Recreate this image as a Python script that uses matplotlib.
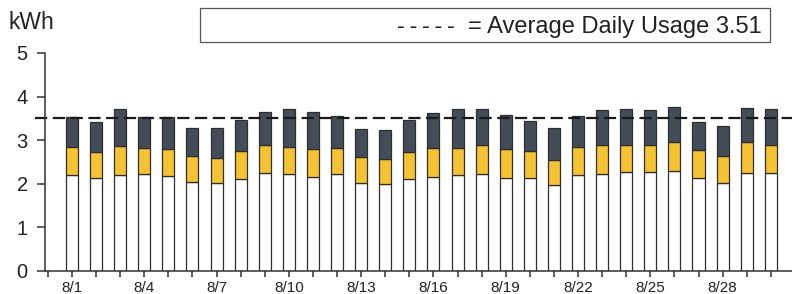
import numpy as np
import matplotlib.pyplot as plt
from matplotlib.patches import Rectangle

plt.rcParams['font.family'] = ['Liberation Sans', 'DejaVu Sans']

days = ['8/%d' % d for d in range(1, 31)]
# stacked segments (kWh)
base = [2.20, 2.14, 2.20, 2.22, 2.17, 2.03, 2.01, 2.11, 2.24, 2.22,
        2.16, 2.22, 2.01, 1.99, 2.11, 2.16, 2.20, 2.22, 2.14, 2.13,
        1.97, 2.20, 2.22, 2.28, 2.28, 2.29, 2.13, 2.01, 2.25, 2.25]
mid_top = [2.84, 2.72, 2.87, 2.81, 2.79, 2.64, 2.60, 2.75, 2.88, 2.85,
           2.80, 2.83, 2.61, 2.56, 2.72, 2.81, 2.81, 2.89, 2.79, 2.76,
           2.55, 2.84, 2.89, 2.89, 2.90, 2.97, 2.78, 2.63, 2.95, 2.89]
total = [3.54, 3.42, 3.71, 3.54, 3.54, 3.29, 3.27, 3.46, 3.64, 3.72,
         3.65, 3.56, 3.25, 3.23, 3.46, 3.63, 3.71, 3.72, 3.58, 3.45,
         3.29, 3.56, 3.69, 3.72, 3.69, 3.77, 3.42, 3.33, 3.75, 3.72]
avg_usage = 3.51

base = np.array(base)
mid = np.array(mid_top) - base
top = np.array(total) - np.array(mid_top)
x = np.arange(len(days))

fig = plt.figure(figsize=(7.92, 2.94), dpi=100)
ax = fig.add_axes([45 / 792, 23 / 294, 747 / 792, 218 / 294])

edge = '#2e2e2e'
ax.bar(x, base, 0.5, color='white', edgecolor=edge, linewidth=0.9)
ax.bar(x, mid, 0.5, bottom=base, color='#f5c233', edgecolor=edge, linewidth=0.9)
ax.bar(x, top, 0.5, bottom=np.array(mid_top), color='#444c57', edgecolor=edge, linewidth=0.9)

ax.plot([-1.55, 30.5], [avg_usage, avg_usage], color='#1a1a1a', lw=1.6,
        dashes=(5.5, 2.5), clip_on=False)

ax.set_xlim(-1.12, 29.88)
ax.set_ylim(0, 5)
ax.set_yticks(range(6))
ticks = list(range(-1, len(days)))
ax.set_xticks(ticks)
ax.set_xticklabels(['' if (t < 0 or t % 3) else days[t] for t in ticks])

for s in ['top', 'right']:
    ax.spines[s].set_visible(False)
for s in ['left', 'bottom']:
    ax.spines[s].set_color('#333333')
    ax.spines[s].set_linewidth(1.1)
ax.tick_params(axis='y', direction='out', length=5.5, width=1.1, color='#333333',
               labelsize=14.5, pad=7, labelcolor='#222222')
ax.tick_params(axis='x', direction='out', length=4.5, width=1.1, color='#333333',
               labelsize=11, pad=3, labelcolor='#222222')

fig.text(8 / 792, 1 - 29 / 294, 'kWh', fontsize=16.5, color='#222222')

fig.patches.append(Rectangle((200 / 792, 1 - 42 / 294), 570 / 792, 34 / 294,
                             transform=fig.transFigure, fill=False,
                             edgecolor='#555555', lw=0.9))
fig.text(762 / 792, 1 - 27.5 / 294,
         '-\u2009-\u2009-\u2009-\u2009-  = Average Daily Usage %.2f' % avg_usage,
         fontsize=17, ha='right', va='center', color='#222222')

fig.savefig('out.png', dpi=100)
